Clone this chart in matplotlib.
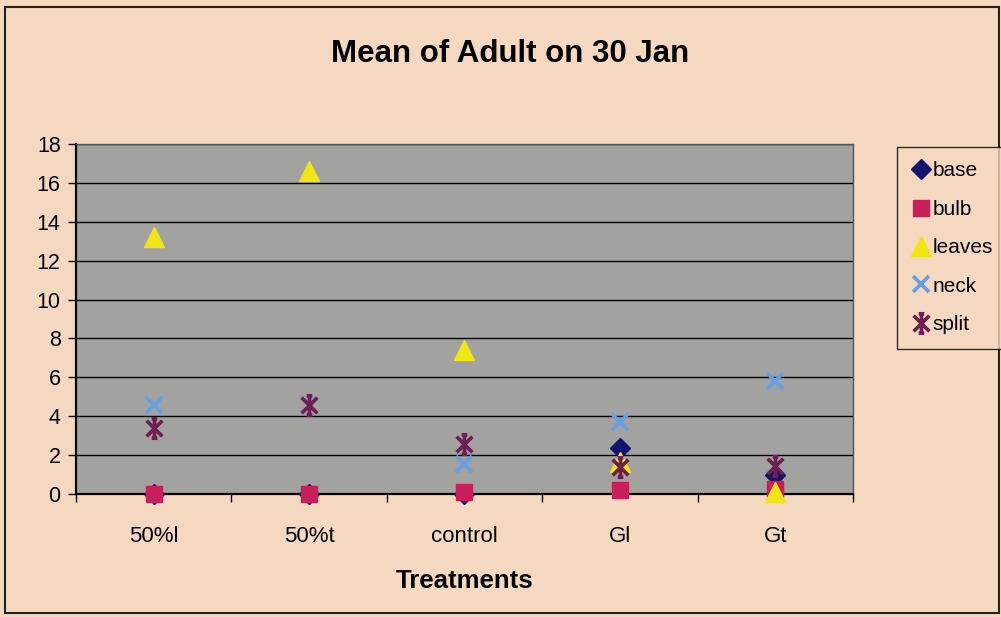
import matplotlib
matplotlib.use("Agg")
import matplotlib.pyplot as plt
from matplotlib.path import Path
from matplotlib.patches import Rectangle
import numpy as np

plt.rcParams['font.family'] = ['Liberation Sans', 'DejaVu Sans']

treatments = ["50%l", "50%t", "control", "Gl", "Gt"]
base = [0.0, 0.0, 0.0, 2.36, 1.0]
bulb = [0.0, 0.0, 0.08, 0.22, 0.26]
leaves = [13.2, 16.6, 7.4, 1.64, 0.08]
neck = [4.56, 4.6, 1.52, 3.71, 5.82]
split = [3.41, 4.6, 2.59, 1.38, 1.43]

y_ticks = [0, 2, 4, 6, 8, 10, 12, 14, 16, 18]

# asterisk marker: an X crossed by a vertical bar
d = 0.5
star = Path(
    [(-d, -d), (d, d), (-d, d), (d, -d), (0, -0.62), (0, 0.62),
     (-0.18, 0.62), (0.18, 0.62), (-0.18, -0.62), (0.18, -0.62)],
    [Path.MOVETO, Path.LINETO] * 5,
)

bg = "#F5D8C0"
fig = plt.figure(figsize=(10.01, 6.17), dpi=100, facecolor=bg)
ax = fig.add_axes([0.0759, 0.1994, 0.7762, 0.5672])
ax.set_facecolor("#A2A2A0")

x = np.arange(len(treatments))
series = [
    ("base", base, dict(marker="D", color="#14146E", ms=10)),
    ("bulb", bulb, dict(marker="s", color="#C81E5A", ms=12)),
    ("leaves", leaves, dict(marker="^", color="#F0E614", ms=14)),
    ("neck", neck, dict(marker="x", color="#64A0E6", ms=12, mew=2.6)),
    ("split", split, dict(marker=star, color="#6E1E50", ms=14, mew=2.6)),
]
for name, vals, kw in series:
    ax.plot(x, vals, linestyle="none", label=name, clip_on=False, zorder=3, **kw)

ax.set_xlim(-0.5, len(treatments) - 0.5)
ax.set_ylim(0, 18)
ax.set_yticks(y_ticks)
ax.yaxis.grid(True, color="black", linewidth=1.0)
ax.set_axisbelow(True)

ax.set_xticks(np.arange(len(treatments) + 1) - 0.5)
ax.set_xticklabels([])
ax.set_xticks(x, minor=True)
ax.set_xticklabels(treatments, minor=True, fontsize=16)
ax.tick_params(axis="x", which="minor", length=0, pad=23)
ax.tick_params(axis="x", which="major", length=6, width=1, direction="out")
ax.tick_params(axis="y", length=6, width=1, direction="out", labelsize=15.5, pad=5)

for side in ["left", "bottom"]:
    ax.spines[side].set_linewidth(1.6)
for side in ["right", "top"]:
    ax.spines[side].set_linewidth(1.0)
    ax.spines[side].set_color("#555555")

ax.set_xlabel("Treatments", fontsize=18.5, fontweight="bold", labelpad=16)
fig.text(0.51, 0.912, "Mean of Adult on 30 Jan", ha="center", va="center",
         fontsize=22.5, fontweight="bold")

leg = fig.legend(loc="upper left", bbox_to_anchor=(0.896, 0.762),
                 bbox_transform=fig.transFigure, frameon=True, fancybox=False,
                 fontsize=15, labelspacing=0.93, handletextpad=0.1,
                 handlelength=0.9, borderpad=0.7, borderaxespad=0.0)
leg.get_frame().set_edgecolor("black")
leg.get_frame().set_linewidth(1.0)
leg.get_frame().set_facecolor(bg)

fig.patches.append(Rectangle((0.005, 0.007), 0.993, 0.982, transform=fig.transFigure,
                             fill=False, edgecolor="#222222", linewidth=1.5))

fig.savefig("out.png", dpi=100, facecolor=bg)
